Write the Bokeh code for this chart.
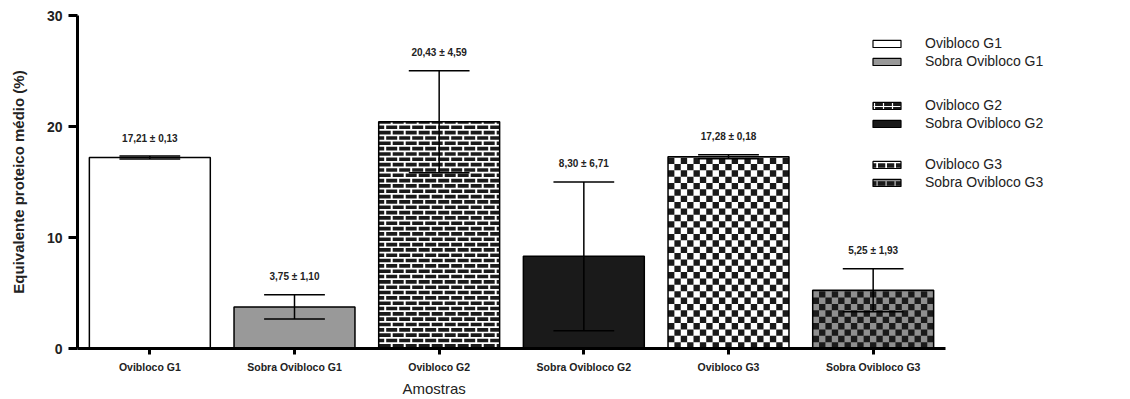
import math
from bokeh.plotting import figure
from bokeh.models import (Range1d, FixedTicker, Legend, LegendItem, Title,
                          ColumnDataSource)
from bokeh.core.properties import value
from bokeh.embed import file_html
from bokeh.resources import INLINE

# --- data -------------------------------------------------------------
samples = ["Ovibloco G1", "Sobra Ovibloco G1", "Ovibloco G2",
           "Sobra Ovibloco G2", "Ovibloco G3", "Sobra Ovibloco G3"]
means = [17.21, 3.75, 20.43, 8.30, 17.28, 5.25]
sds = [0.13, 1.10, 4.59, 6.71, 0.18, 1.93]
y_ticks = [0, 10, 20, 30]

FONT = "Liberation Sans"
INK = "#1a1a1a"

# fill of each bar and the texture drawn over it
fills = ["white", "#999999", INK, INK, "white", "#8f8f8f"]
textures = [None, None, "brick", None, "checker", "checker"]

# --- layout -----------------------------------------------------------
W, H = 1130, 399
border_l, border_t, border_b = 77, 15, 51
axis_px = 868                                  # length of the x axis line
frame_w = W - border_l
frame_h = H - border_t - border_b
y_max = 30
x_end = len(samples) * frame_w / axis_px       # frame reaches the legend area
px_x = axis_px / len(samples)                  # pixels per category
px_y = frame_h / y_max                         # pixels per y unit

centers = [i + 0.5 for i in range(len(samples))]
upper = [m + s for m, s in zip(means, sds)]
lower = [m - s for m, s in zip(means, sds)]
labels = [f"{m:.2f} ± {s:.2f}".replace(".", ",") for m, s in zip(means, sds)]

p = figure(width=W, height=H, output_backend="svg", toolbar_location=None,
           x_range=Range1d(0, x_end), y_range=Range1d(0, y_max),
           min_border_left=border_l, min_border_right=0,
           min_border_top=border_t, min_border_bottom=border_b)
p.outline_line_color = None
p.xgrid.visible = False
p.ygrid.visible = False
p.background_fill_color = "white"

bar_w = 0.836
cap_w = 0.21

# bar bodies
p.vbar(x=centers, top=means, width=bar_w, bottom=0,
       fill_color=fills, line_color=None)

# checkerboard texture: square cells, black on the bar's own fill
cq = dict(l=[], r=[], b=[], t=[])
n_cols = 19
cell_w = bar_w / n_cols
cell_h = cell_w * px_x / px_y
for xc, top, tex in zip(centers, means, textures):
    if tex != "checker":
        continue
    left = xc - bar_w / 2
    for row in range(math.ceil(top / cell_h)):
        b, t = row * cell_h, min((row + 1) * cell_h, top)
        for col in range(n_cols):
            if (row + col) % 2 == 1:
                cq["l"].append(left + col * cell_w)
                cq["r"].append(left + (col + 1) * cell_w)
                cq["b"].append(b)
                cq["t"].append(t)
p.quad(left="l", right="r", bottom="b", top="t", source=ColumnDataSource(cq),
       fill_color=INK, line_color=None)

# brick texture: white mortar joints on the dark bar
hz = dict(x0=[], x1=[], y=[])
vt = dict(x=[], y0=[], y1=[])
course_h = 5.33 / px_y
brick_len = 13 / px_x
for xc, top, tex in zip(centers, means, textures):
    if tex != "brick":
        continue
    left, right = xc - bar_w / 2, xc + bar_w / 2
    for row in range(math.ceil(top / course_h)):
        b, t = row * course_h, min((row + 1) * course_h, top)
        if row > 0:
            hz["x0"].append(left); hz["x1"].append(right); hz["y"].append(b)
        x = left + (brick_len / 2 if row % 2 else brick_len)
        while x < right - 0.005:
            vt["x"].append(x); vt["y0"].append(b); vt["y1"].append(t)
            x += brick_len
p.segment(x0="x0", x1="x1", y0="y", y1="y", source=ColumnDataSource(hz),
          line_color="white", line_width=1.7)
p.segment(x0="x", x1="x", y0="y0", y1="y1", source=ColumnDataSource(vt),
          line_color="white", line_width=2)

# bar outlines on top of the textures
p.vbar(x=centers, top=means, width=bar_w, bottom=0,
       fill_color=None, line_color="black", line_width=1.5)

# error bars
err = ColumnDataSource(dict(x=centers, lo=lower, hi=upper,
                            xl=[c - cap_w for c in centers],
                            xr=[c + cap_w for c in centers]))
p.segment(x0="x", x1="x", y0="lo", y1="hi", source=err,
          line_color="black", line_width=1.5)
p.segment(x0="xl", x1="xr", y0="hi", y1="hi", source=err,
          line_color="black", line_width=1.5)
p.segment(x0="xl", x1="xr", y0="lo", y1="lo", source=err,
          line_color="black", line_width=1.5)

# mean ± sd above each error bar
p.text(x=centers, y=upper, text=labels, y_offset=-18,
       text_align="center", text_baseline="middle",
       text_font=value(FONT), text_font_style="bold",
       text_font_size="10px", text_color="#222222")

# axes
xa = p.xaxis[0]
xa.bounds = (0, len(samples))
xa.ticker = FixedTicker(ticks=centers)
xa.major_label_overrides = {c: s for c, s in zip(centers, samples)}
xa.minor_tick_line_color = None
xa.axis_line_width = 3
xa.major_tick_line_width = 3
xa.major_tick_in = 0
xa.major_tick_out = 6
xa.major_label_standoff = 6
xa.major_label_text_font = FONT
xa.major_label_text_font_style = "bold"
xa.major_label_text_font_size = "10.5px"
xa.major_label_text_color = "#222222"

ya = p.yaxis[0]
ya.ticker = FixedTicker(ticks=y_ticks)
ya.minor_tick_line_color = None
ya.axis_line_width = 3
ya.major_tick_line_width = 3
ya.major_tick_in = 0
ya.major_tick_out = 9
ya.major_label_standoff = 6
ya.major_label_text_font = FONT
ya.major_label_text_font_style = "bold"
ya.major_label_text_font_size = "14px"
ya.major_label_text_color = "#222222"
ya.axis_label = "Equivalente proteico médio (%)"
ya.axis_label_text_font = FONT
ya.axis_label_text_font_style = "bold"
ya.axis_label_text_font_size = "15px"
ya.axis_label_text_color = "#222222"
ya.axis_label_standoff = 17

p.add_layout(Title(text="Amostras", align="left", offset=325, standoff=4,
                   text_font=FONT, text_font_size="15px",
                   text_font_style="normal", text_color="#222222"), "below")

# legend swatches: renderers that carry only the swatch style (their single
# row has no height, so nothing is drawn in the plot area)
swatch_styles = [
    dict(fill_color="white"),
    dict(fill_color="#999999"),
    dict(fill_color=INK, hatch_pattern="+", hatch_color="white",
         hatch_scale=9, hatch_weight=1.2),
    dict(fill_color=INK),
    dict(fill_color="white", hatch_pattern="horizontal_dash",
         hatch_color=INK, hatch_scale=9, hatch_weight=4.5),
    dict(fill_color="#8f8f8f", hatch_pattern="horizontal_dash",
         hatch_color=INK, hatch_scale=9, hatch_weight=4.5),
]
swatches = []
for i, st in enumerate(swatch_styles):
    r = p.vbar(x="x", top="top", width=bar_w, bottom=0,
               source=ColumnDataSource(dict(x=[centers[i]], top=[float("nan")])),
               line_color="black", line_width=1.2, **st)
    swatches.append(r)

# three groups of two entries
for g, ly in enumerate([278.5, 216.5, 157.5]):
    items = [LegendItem(label=samples[2 * g + k], renderers=[swatches[2 * g + k]])
             for k in range(2)]
    leg = Legend(items=items, location=(792, ly), orientation="vertical",
                 border_line_color=None, background_fill_alpha=0,
                 padding=0, margin=0, spacing=1,
                 glyph_width=35, glyph_height=9, label_height=17,
                 label_standoff=21, label_text_font=FONT,
                 label_text_font_size="14px", label_text_color="#222222")
    p.add_layout(leg)

open("out.html", "w").write(file_html(p, INLINE))
